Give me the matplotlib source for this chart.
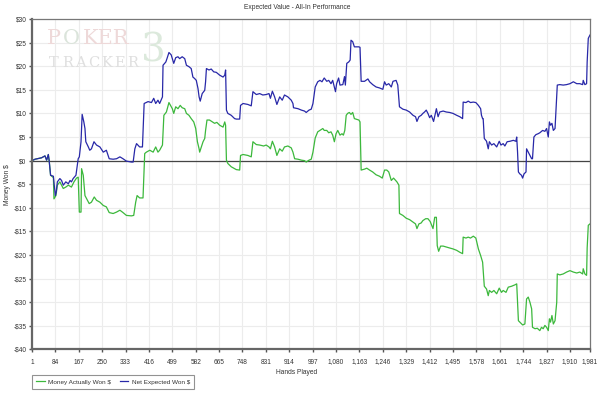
import matplotlib.pyplot as plt
import matplotlib.ticker as mticker

plt.rcParams['font.family'] = ['Liberation Sans', 'DejaVu Sans']

# hands played / dollars
net_hands = [1, 12, 35, 47, 53, 59, 62, 67, 77, 80, 84, 87, 91, 100, 106, 112, 121, 130, 136, 141,
             147, 157, 165, 169, 175, 179, 185, 189, 192, 201, 206, 212, 221, 230, 242, 254, 265, 275,
             289, 301, 313, 324, 336, 354, 360, 366, 372, 383, 393, 399, 413, 425, 433, 440, 448, 454,
             464, 466, 476, 480, 487,
             495, 504, 511, 519, 525, 534, 543, 549, 558, 566, 572, 578, 584, 590, 594, 598, 605, 614,
             617, 620, 629, 637, 646, 655, 667, 679, 685, 688, 691, 696, 708, 720, 726, 738, 741, 750,
             767, 779, 785, 797, 809, 820, 832, 842, 847, 854, 862, 870, 880, 889, 897, 909, 921, 927,
             929, 945, 957, 968, 974, 984, 992, 998,
             1006, 1015, 1023, 1030, 1038, 1047, 1054, 1062, 1068, 1078, 1082, 1089, 1094, 1104, 1110,
             1113, 1118, 1125, 1130, 1133, 1139, 1145, 1161, 1165, 1169, 1181, 1193, 1199, 1210, 1222,
             1234, 1246, 1252, 1258, 1267, 1276, 1282, 1293, 1299, 1305, 1317, 1329, 1341, 1353, 1362,
             1367, 1374, 1382, 1388, 1394, 1400, 1406, 1412, 1418, 1426, 1436, 1442, 1448, 1460, 1471,
             1483, 1495,
             1508, 1519, 1529, 1531, 1541, 1549, 1557, 1567, 1576, 1585, 1593, 1596, 1600, 1602, 1606,
             1614, 1620, 1624, 1632, 1640, 1650, 1659, 1665, 1673, 1679, 1687, 1697, 1709, 1718, 1721,
             1724, 1727, 1732, 1738, 1742, 1747, 1754, 1756, 1762, 1768, 1774, 1777, 1782, 1789, 1797,
             1803, 1813, 1821, 1827, 1833, 1837, 1841, 1846, 1851, 1857, 1860, 1865, 1874, 1886, 1898,
             1910, 1922, 1934, 1945, 1955, 1957, 1963, 1969, 1971, 1975, 1981]
net_won = [0, 0.3, 0.6, 1.0, 0.1, 1.3, 0.0, -3.1, -3.3, -5.2, -7.4, -6.7, -4.5, -3.8, -4.2, -5.2, -4.5,
           -4.9, -4.2, -4.5, -3.8, -3.1, 0.4, 0.8, 4.0, 9.8, 8.2, 6.8, 4.0, 2.9, 2.2, 2.5, 4.0, 3.3, 2.9,
           1.8, 2.2, 0.4, 0.3, 0.4, 0.8, 0.4, -0.1, -0.3, -0.3, 2.5, 3.6, 2.9, 2.9, 12.1, 12.5, 12.3,
           13.2, 12.1, 12.8, 12.1, 13.5, 20.2, 20.9, 21.6, 22.9,
           22.4, 20.6, 21.8, 22.0, 21.6, 22.0, 21.6, 20.2, 19.9, 19.5, 17.7, 17.4, 17.0, 15.3, 13.5,
           12.6, 14.2, 14.9, 16.7, 19.5, 19.2, 19.4, 18.8, 18.7, 18.1, 17.7, 18.1, 19.2, 10.7, 10.0, 9.6,
           8.9, 8.8, 8.8, 11.7, 12.1, 11.9, 11.6, 14.6, 14.0, 14.2, 13.9, 14.0, 14.2, 13.2, 14.7, 13.5,
           11.9, 13.5, 12.8, 13.9, 13.5, 12.8, 12.1, 11.2, 11.0, 10.7, 10.5, 10.2, 10.7, 10.9, 12.1,
           15.6, 16.7, 17.0, 16.7, 17.5, 16.8, 17.0, 16.3, 17.0, 14.6, 16.3, 17.5, 16.0, 16.1, 17.8,
           16.0, 20.6, 20.9, 21.3, 25.5, 25.2, 24.1, 24.1, 24.0, 16.8, 16.8, 17.3, 16.7, 16.1, 15.6,
           15.4, 15.1, 16.7, 16.0, 16.3, 15.6, 16.8, 17.0, 16.0, 11.4, 10.9, 10.7, 10.3, 9.6, 9.3, 8.3,
           9.3, 9.6, 10.0, 10.3, 10.7, 10.0, 9.1, 9.6, 8.3, 11.0, 9.3, 10.3, 10.5, 10.3, 10.2, 10.0,
           9.6, 9.3, 8.9, 12.4, 12.3, 12.6, 12.3, 12.4, 12.3, 11.7, 11.0, 9.6, 8.9, 8.9, 4.7, 4.1, 2.5,
           4.0, 3.3, 3.6, 2.9, 4.1, 3.3, 3.6, 3.1, 4.0, 4.1, 4.3, 4.1, 5.0, 1.8, -2.4, -2.8, -3.1, -3.7,
           -2.8, -2.4, 2.5, 1.8, 1.1, 0.4, 0.4, 5.0, 5.5, 5.7, 5.9, 6.4, 6.2, 6.8, 5.0, 8.2, 7.5, 7.9,
           6.4, 6.8, 10.3, 16.0, 16.1, 16.0, 16.1, 16.3, 16.7, 16.3, 16.3, 16.1, 17.0, 16.1, 16.3, 20.9,
           25.9, 26.6]

money_hands = [1, 12, 35, 47, 53, 59, 62, 67, 77, 79, 86, 91, 100, 112, 121, 130, 141, 150, 159, 165,
               169, 175, 177, 183, 189, 195, 204, 212, 222, 230, 242, 254, 265, 275, 289, 301, 313, 324,
               336, 354, 362, 369, 374, 383, 395, 401, 407, 419, 431, 440, 448, 454, 464, 469, 478, 487,
               499, 504, 511, 519, 527, 534, 543, 549, 558, 566, 575, 582, 588, 594, 596, 602, 608, 614,
               617, 622, 631, 641, 649, 657, 667, 679, 685, 688, 691, 696, 708, 720, 726, 738, 741, 750,
               767, 779, 785, 797, 809, 823, 832, 842, 847, 854, 862, 870, 880, 889, 897, 909, 921, 927,
               933, 945, 957, 968, 974, 984, 992, 998,
               1006, 1015, 1023, 1033, 1038, 1047, 1054, 1062, 1068, 1074, 1080, 1086, 1094, 1101, 1106,
               1111, 1116, 1121, 1127, 1133, 1139, 1145, 1161, 1165, 1169, 1181, 1189, 1199, 1210, 1222,
               1234, 1244, 1252, 1260, 1267, 1276, 1284, 1296, 1303, 1305, 1317, 1329, 1341, 1353, 1362,
               1367, 1374, 1382, 1388, 1398, 1406, 1414, 1424, 1430, 1436, 1439, 1444, 1451, 1460, 1471,
               1483, 1495,
               1508, 1519, 1529, 1531, 1541, 1549, 1557, 1567, 1576, 1585, 1593, 1600, 1606, 1614, 1620,
               1624, 1632, 1640, 1650, 1659, 1667, 1673, 1683, 1691, 1703, 1715, 1721, 1724, 1727, 1732,
               1742, 1750, 1756, 1762, 1768, 1774, 1777, 1786, 1794, 1803, 1809, 1815, 1821, 1827, 1833,
               1837, 1841, 1846, 1851, 1857, 1863, 1865, 1874, 1886, 1898, 1910, 1922, 1934, 1945, 1955,
               1957, 1963, 1969, 1971, 1975, 1981]
money_won = [0, 0.3, 0.6, 1.0, 0.1, 1.3, 0.0, -3.1, -3.6, -8.1, -7.4, -5.2, -4.5, -5.9, -5.6, -5.2,
             -5.6, -4.5, -3.7, -3.5, -10.9, -10.9, -1.7, -3.1, -7.4, -8.1, -9.1, -8.8, -7.7, -8.4, -8.8,
             -9.5, -9.8, -11.0, -11.2, -10.9, -10.5, -11.0, -11.6, -11.7, -11.6, -8.8, -7.4, -7.9, -7.9,
             1.5, 1.8, 2.2, 1.8, 2.9, 1.8, 2.2, 3.3, 9.6, 10.3, 12.3,
             11.0, 10.0, 11.4, 11.0, 11.7, 11.2, 11.0, 10.0, 9.6, 8.9, 8.2, 6.8, 4.0, 2.5, 1.8, 2.9, 4.0,
             4.7, 6.4, 8.6, 8.6, 8.2, 7.9, 8.1, 7.5, 7.1, 8.2, 7.5, 0.1, -0.6, -1.3, -1.7, -1.9, -2.0,
             1.1, 1.3, 1.1, 0.8, 4.0, 3.4, 3.3, 3.1, 3.3, 2.9, 2.5, 4.1, 2.9, 1.1, 2.5, 2.0, 2.9, 3.1,
             2.7, 1.8, 0.4, 0.3, 0.1, 0.0, -0.3, 0.1, 0.3, 1.8,
             4.8, 6.1, 6.4, 6.8, 6.4, 6.4, 5.9, 6.1, 5.4, 4.0, 5.7, 6.4, 5.4, 5.7, 5.4, 6.4, 9.6, 10.0,
             10.2, 9.8, 10.2, 8.9, 8.6, 8.2, -2.0, -1.8, -1.6, -2.0, -2.4, -3.0, -3.3, -3.7, -2.0, -2.0,
             -2.4, -4.2, -3.7, -4.5, -5.2, -11.2, -11.6, -12.2, -12.5, -13.0, -13.4, -14.4, -13.4,
             -13.2, -12.7, -12.3, -12.3, -12.9, -14.4, -12.0, -12.0, -18.0, -19.2, -18.1, -18.1, -18.3,
             -18.5, -18.7,
             -19.0, -19.4, -19.7, -16.2, -16.4, -16.2, -16.4, -16.0, -16.4, -18.7, -20.1, -21.5, -26.6,
             -27.2, -28.6, -27.5, -27.9, -27.5, -28.2, -27.0, -27.9, -27.5, -27.9, -26.8, -26.6, -26.3,
             -26.1, -30.0, -33.9, -34.2, -34.8, -34.6, -29.3, -28.9, -30.0, -31.4, -35.3, -35.6, -35.5,
             -36.0, -35.3, -35.6, -34.9, -35.3, -36.0, -33.5, -34.2, -32.8, -34.6, -33.9, -30.0, -24.0,
             -24.2, -24.0, -23.6, -23.3, -23.6, -23.8, -23.6, -24.0, -22.9, -24.0, -24.3, -18.5, -13.7,
             -13.4]

x_ticks = [1, 84, 167, 250, 333, 416, 499, 582, 665, 748, 831, 914, 997, 1080, 1163, 1246, 1329,
           1412, 1495, 1578, 1661, 1744, 1827, 1910, 1981]
y_ticks = list(range(-40, 31, 5))

fig = plt.figure(figsize=(6, 3.93), dpi=100)
ax = fig.add_axes([0.0533, 0.1107, 0.93, 0.8410])

ax.set_xlim(1, 1981)
ax.set_ylim(-40, 30)
ax.set_xticks(x_ticks)
ax.set_xticklabels([f"{t:,}" for t in x_ticks])
ax.set_yticks(y_ticks)
ax.yaxis.set_major_formatter(mticker.FuncFormatter(
    lambda v, p: f"${v:.0f}" if v >= 0 else f"-${-v:.0f}"))
ax.grid(True, color='#ececec', linewidth=0.8)
ax.set_axisbelow(True)

ax.tick_params(labelsize=4.7, colors='#555555', labelcolor='#333333', length=2.5, width=1)
ax.tick_params(axis='x', pad=4)
ax.tick_params(axis='y', pad=1.5)
for side in ['top', 'right']:
    ax.spines[side].set_color('#777777')
    ax.spines[side].set_linewidth(0.9)
for side in ['left', 'bottom']:
    ax.spines[side].set_color('#666666')
    ax.spines[side].set_linewidth(1.6)

# watermark (figure pixel positions / 600x393)
wm = dict(family='DejaVu Serif', va='center', ha='left')
fig.text(47 / 600, 1 - 39 / 393, "P", fontsize=15, color='#eed9d9', **wm)
fig.text(63 / 600, 1 - 39 / 393, "O", fontsize=15, color='#dbe4db', **wm)
fig.text(83 / 600, 1 - 39 / 393, "KER", fontsize=15, color='#eed9d9', **wm)
for i, ch in enumerate("TRACKER"):
    fig.text((49 + i * 13) / 600, 1 - 63 / 393, ch, fontsize=10.5, color='#dfdfdf', **wm)
fig.text(141 / 600, 1 - 51 / 393, "3", fontsize=28, color='#dce9dc', **wm)

ax.axhline(0, color='#444444', linewidth=0.9)
ax.plot(money_hands, money_won, color='#3cb83c', linewidth=0.9, label='Money Actually Won $')
ax.plot(net_hands, net_won, color='#2828a8', linewidth=0.9, label='Net Expected Won $')

fig.text(0.495, 0.98, "Expected Value - All-In Performance", ha='center', va='center',
         fontsize=4.8, color='#333333')
fig.text(0.495, 0.0534, "Hands Played", ha='center', va='center', fontsize=4.8, color='#333333')
fig.text(0.0117, 0.529, "Money Won $", ha='center', va='center', rotation=90, fontsize=4.8,
         color='#333333')

leg = fig.legend(loc='lower left', bbox_to_anchor=(0.053, 0.01), ncol=2, fontsize=4.6,
                 frameon=True, fancybox=False, handlelength=1.3, columnspacing=1.3,
                 borderpad=0.7, handletextpad=0.6, borderaxespad=0)
leg.get_frame().set_edgecolor('#777777')
leg.get_frame().set_linewidth(0.8)
for t in leg.get_texts():
    t.set_color('#333333')

fig.savefig('out.png', dpi=100)
